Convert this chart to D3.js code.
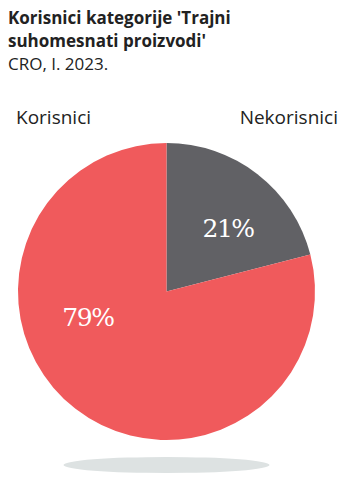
<!DOCTYPE html>
<html lang="hr">
<head>
<meta charset="utf-8">
<title>Korisnici</title>
<script src="https://cdn.jsdelivr.net/npm/d3@7"></script>
<style>
body { margin: 0; background: #fff; }
.head { font-family: "Open Sans", "Noto Sans", sans-serif; }
.pct { font-family: "DejaVu Serif", serif; }
</style>
</head>
<body>
<script>
var categories = ["Nekorisnici", "Korisnici"];
var values = [21, 79];
var colors = ["#616165", "#f05a5c"];

var w = 354, h = 483;
var cx = 166.5, cy = 291.5, r = 148.5;

var svg = d3.select("body").append("svg").attr("width", w).attr("height", h);

// title
svg.append("text").attr("class", "head").attr("x", 8).attr("y", 24)
  .attr("font-size", "17px").attr("font-weight", "bold").attr("fill", "#222")
  .text("Korisnici kategorije 'Trajni");
svg.append("text").attr("class", "head").attr("x", 8).attr("y", 47)
  .attr("font-size", "17px").attr("font-weight", "bold").attr("fill", "#222")
  .text("suhomesnati proizvodi'");
svg.append("text").attr("class", "head").attr("x", 8).attr("y", 70)
  .attr("font-size", "17px").attr("fill", "#222")
  .text("CRO, I. 2023.");

// legend labels
svg.append("text").attr("class", "head").attr("x", 16).attr("y", 124)
  .attr("font-size", "19px").attr("fill", "#222").text(categories[1]);
svg.append("text").attr("class", "head").attr("x", 338).attr("y", 124).attr("text-anchor", "end")
  .attr("font-size", "19px").attr("fill", "#222").text(categories[0]);

// shadow
svg.append("ellipse").attr("cx", cx).attr("cy", 465).attr("rx", 103).attr("ry", 8)
  .attr("fill", "#dde2e2");

var pie = d3.pie().sort(null);
var arc = d3.arc().innerRadius(0).outerRadius(r);
var g = svg.append("g").attr("transform", "translate(" + cx + "," + cy + ")");

var arcs = pie(values);
g.selectAll("path").data(arcs).enter().append("path")
  .attr("d", arc)
  .attr("fill", function(d, i) { return colors[i]; });

// label positions: arc centroid at 0.6r, nudged to match the original
var labelArc = d3.arc().innerRadius(r * 0.6).outerRadius(r * 0.6);
var nudge = [[7, 16], [-24, -36]];
g.selectAll("text.pct").data(arcs).enter().append("text")
  .attr("class", "pct")
  .attr("x", function(d, i) { return labelArc.centroid(d)[0] + nudge[i][0]; })
  .attr("y", function(d, i) { return labelArc.centroid(d)[1] + nudge[i][1]; })
  .attr("text-anchor", "middle")
  .attr("font-size", "25px")
  .attr("letter-spacing", "-1.5px")
  .attr("fill", "#fff")
  .text(function(d) { return d.data + "%"; });
</script>
</body>
</html>
